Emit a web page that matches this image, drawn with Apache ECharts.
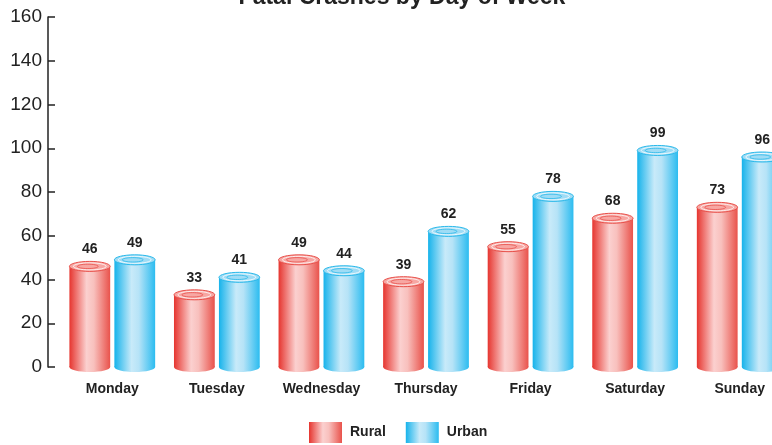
<!DOCTYPE html>
<html lang="en" style="height: 100%">
<head>
  <meta charset="utf-8">
</head>
<body style="height: 100%; margin: 0; background: #fff">
  <div id="container" style="width: 772px; height: 445px"></div>
  <script type="text/javascript" src="https://cdn.jsdelivr.net/npm/echarts@6/dist/echarts.min.js"></script>
  <script type="text/javascript">
    var days = ['Monday', 'Tuesday', 'Wednesday', 'Thursday', 'Friday', 'Saturday', 'Sunday'];
    var rural = [46, 33, 49, 39, 55, 68, 73];
    var urban = [49, 41, 44, 62, 78, 99, 96];

    var FONT = '"Liberation Sans", Arial, Helvetica, sans-serif';

    function grad(stops) {
      return new echarts.graphic.LinearGradient(0, 0, 1, 0, stops);
    }
    var redStops = [
      { offset: 0, color: '#e6352f' },
      { offset: 0.42, color: '#fbd0cf' },
      { offset: 0.6, color: '#f8c0bd' },
      { offset: 1, color: '#e9524b' }
    ];
    var blueStops = [
      { offset: 0, color: '#16b3eb' },
      { offset: 0.42, color: '#c8eaf9' },
      { offset: 0.6, color: '#b6e3f7' },
      { offset: 1, color: '#2bbcf0' }
    ];

    // draws one cylinder per data item
    function cylinder(stops, topFill, ringColor, shift) {
      return function (params, api) {
        var idx = api.value(0);
        var v = api.value(1);
        var top = api.coord([idx, v]);
        var bot = api.coord([idx, 0]);
        var band = api.size([1, 0])[0];
        var bw = band * 0.39;
        var cx = top[0] + band * shift;
        var rx = bw / 2, ry = 5;
        return {
          type: 'group',
          children: [
            {
              type: 'rect',
              shape: { x: cx - rx, y: top[1], width: bw, height: bot[1] - top[1] },
              style: { fill: grad(stops) }
            },
            {
              type: 'ellipse',
              shape: { cx: cx, cy: bot[1], rx: rx, ry: ry },
              style: { fill: grad(stops) }
            },
            {
              type: 'ellipse',
              shape: { cx: cx, cy: top[1], rx: rx, ry: ry },
              style: { fill: topFill, stroke: ringColor, lineWidth: 1 }
            },
            {
              type: 'ellipse',
              shape: { cx: cx, cy: top[1], rx: rx - 4, ry: ry - 1.5 },
              style: { fill: 'none', stroke: '#ffffff', lineWidth: 0.8 }
            },
            {
              type: 'ellipse',
              shape: { cx: cx - 2, cy: top[1], rx: rx - 10, ry: ry - 2.8 },
              style: { fill: 'none', stroke: ringColor, lineWidth: 0.8 }
            },
            {
              type: 'text',
              style: {
                text: String(v),
                x: cx,
                y: top[1] - ry - 5,
                align: 'center',
                verticalAlign: 'bottom',
                font: 'bold 14px ' + FONT,
                fill: '#222'
              }
            }
          ]
        };
      };
    }

    var chart = echarts.init(document.getElementById('container'), null, { renderer: 'canvas' });

    chart.setOption({
      animation: false,
      title: {
        text: 'Fatal Crashes by Day of Week',
        left: 397,
        textAlign: 'center',
        top: -19,
        textStyle: { fontFamily: FONT, fontSize: 23, fontWeight: 'bold', color: '#222' }
      },
      legend: {
        bottom: -3,
        left: 304,
        itemWidth: 33,
        itemHeight: 21,
        itemGap: 20,
        icon: 'rect',
        textStyle: { fontFamily: FONT, fontSize: 14, fontWeight: 'bold', color: '#222', padding: [0, 0, 0, 3] },
        data: ['Rural', 'Urban']
      },
      grid: { left: 60, width: 732, top: 17, bottom: 78, outerBoundsMode: 'none', containLabel: false },
      xAxis: {
        type: 'category',
        data: days,
        axisLine: { show: false },
        axisTick: { show: false },
        axisLabel: {
          margin: 15,
          fontFamily: FONT,
          fontSize: 14,
          fontWeight: 'bold',
          color: '#222',
          interval: 0
        }
      },
      yAxis: {
        type: 'value',
        min: 0,
        max: 160,
        interval: 20,
        offset: 12,
        axisLine: { show: true, lineStyle: { color: '#222', width: 1.5 } },
        axisTick: { show: true, inside: true, length: 7, lineStyle: { color: '#222', width: 1.5 } },
        splitLine: { show: false },
        axisLabel: { fontFamily: FONT, fontSize: 19, color: '#222', margin: 6 }
      },
      series: [
        {
          name: 'Rural',
          type: 'custom',
          itemStyle: { color: grad(redStops) },
          renderItem: cylinder(redStops, '#f7a7a3', '#e8514b', -0.215),
          data: rural.map(function (v, i) { return [i, v]; })
        },
        {
          name: 'Urban',
          type: 'custom',
          itemStyle: { color: grad(blueStops) },
          renderItem: cylinder(blueStops, '#9fdcf5', '#2bb9ea', 0.215),
          data: urban.map(function (v, i) { return [i, v]; })
        }
      ]
    });

    window.addEventListener('resize', chart.resize);
  </script>
</body>
</html>
